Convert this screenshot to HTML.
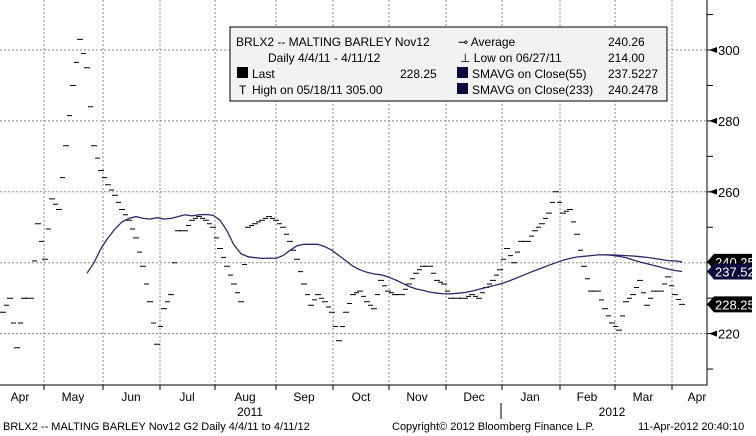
<!DOCTYPE html>
<html><head><meta charset="utf-8"><style>
body{margin:0;background:#fff;}
svg{display:block;font-family:"Liberation Sans",sans-serif;}
</style></head><body>
<svg id="c" width="756" height="436">
<g id="grid"></g>
<g id="bars"></g>
<g id="lines"></g>
<g id="axis"></g>
<g id="xaxis"></g>
<g font-size="12" fill="#000">
<rect x="230" y="27" width="437" height="74" fill="#f2f2f2" stroke="#000" stroke-width="1"/>
<text x="236" y="46">BRLX2 -- MALTING BARLEY  Nov12</text>
<text x="268" y="62">Daily 4/4/11 - 4/11/12</text>
<rect x="237" y="67" width="11" height="11" fill="#000"/>
<text x="252" y="78">Last</text><text x="400" y="78">228.25</text>
<text x="239" y="94">T</text><text x="252" y="94">High on 05/18/11 305.00</text>
<text x="458" y="46">⊸ Average</text><text x="608" y="46">240.26</text>
<text x="460" y="62">⊥ Low on 06/27/11</text><text x="608" y="62">214.00</text>
<rect x="457" y="67" width="11" height="11" fill="#0a0a3c"/>
<text x="472" y="78">SMAVG on Close(55)</text><text x="608" y="78">237.5227</text>
<rect x="457" y="83" width="11" height="11" fill="#0a0a3c"/>
<text x="472" y="94">SMAVG on Close(233)</text><text x="608" y="94">240.2478</text>
</g>
<g font-size="11" fill="#000">
<text x="3" y="430">BRLX2 -- MALTING BARLEY  Nov12      G2   Daily  4/4/11 to 4/11/12</text>
<text x="392" y="430">Copyright© 2012 Bloomberg Finance L.P.</text>
<text x="638" y="430">11-Apr-2012 20:40:10</text>
</g>
</svg>
<script>
const closes=[226,230,216,230,230,251,241,258,255,273,290,303,295,273,266,262,259,255,252,247,239,229,217,227,231,249,249,252,253,252,250,244,239,234,229,250,251,252,253,252,250,246,241,234,228,231,229,226,218,226,231,232,229,227,235,232,231,231,234,237,239,239,235,234,230,230,230,231,230,233,235,238,244,240,246,246,249,251,254,260,254,255,248,239,232,232,227,223,221,229,231,235,228,232,232,236,231,228.25];
const sma55Start=12;
const sma55=[237,240,244,247,249.5,251.5,252.5,253,252.5,252.3,252.7,252.3,252.5,253,253.5,253.2,253.5,253.6,253.4,252,249,245,242.5,241.7,241.4,241.2,241.3,241.2,242,243.5,244.8,245.2,245.2,245.2,244.5,243.5,242,240.5,239,238,237.3,236.8,236.6,236,235.2,234.3,233.3,232.6,232.2,231.7,231.4,231.2,231.2,231.4,231.6,232,232.5,233,233.5,234,234.6,235.4,236.2,237,237.8,238.5,239.3,240,240.7,241.2,241.6,241.8,242,242.2,242.2,242.1,241.8,241.4,240.8,240.2,239.7,239.2,238.7,238.2,237.8,237.52];
const sma233Start=85;
const sma233=[242.2,242.2,242.2,242.1,242,241.9,241.7,241.5,241.2,240.9,240.6,240.5,240.25];
const yTicks=[220,240,260,280,300];
const months=["Apr","May","Jun","Jul","Aug","Sep","Oct","Nov","Dec","Jan","Feb","Mar","Apr"];
const NS="http://www.w3.org/2000/svg";
const y=v=>50+(300-v)*71/20*0.9986;
const x=i=>3+i*(682-3)/(closes.length-1);
function mk(tag,attrs,parent){const e=document.createElementNS(NS,tag);for(const k in attrs)e.setAttribute(k,attrs[k]);document.getElementById(parent).appendChild(e);return e;}
const vx=[44,103,160,215,276,333,389,446,502,560,615,672];
vx.forEach(gx=>{const l=mk('line',{x1:gx,y1:0,x2:gx,y2:385,stroke:'#888','stroke-dasharray':'2,2'},'grid');

});
for(let v=220;v<=300;v+=20){const l=mk('line',{x1:0,y1:y(v),x2:707,y2:y(v),stroke:'#888','stroke-dasharray':'2,2'},'grid');

}
closes.forEach((c,i)=>{const px=x(i),prev=i?closes[i-1]:c;
const d=`M${(px-3).toFixed(1)},${y(c).toFixed(1)}h6M${(px-6).toFixed(1)},${y((c+prev)/2).toFixed(1)}h5`;
const g=mk('path',{d:d,stroke:'#000','stroke-width':1,fill:'none'},'bars');

});
function line(arr,start,name){const p=arr.map((v,k)=>`${k?'L':'M'}${x(start+k).toFixed(1)},${y(v).toFixed(1)}`).join('');
const l=mk('path',{d:p,stroke:'#2a2a6a','stroke-width':1.3,fill:'none'},'lines');

}
line(sma55,sma55Start,'sma55-line');line(sma233,sma233Start,'sma233-line');
const ax=mk('path',{d:'M0,385H707V0',stroke:'#000',fill:'none'},'axis');


for(let v=210;v<=310;v+=10){const t=mk('line',{x1:707,y1:y(v),x2:713,y2:y(v),stroke:'#000'},'axis');

}
yTicks.forEach(v=>{const t=mk('text',{x:718,y:y(v)+5,'font-size':13},'axis');t.textContent=v;


const m=mk('path',{d:`M709,${y(v)}l8,-3v6z`,fill:'#000'},'axis');

});
function tag(v,label,fill){const ty=y(v);
const p=mk('path',{d:`M707,${ty}l7,-8h38v16h-38z`,fill:fill},'axis');


const t=mk('text',{x:715,y:ty+5,'font-size':13,fill:'#fff'},'axis');t.textContent=label;

}
tag(sma233[sma233.length-1],'240.25','#000');tag(sma55[sma55.length-1],'237.52','#0a0a3c');tag(closes[closes.length-1],'228.25','#000');
const mx=[20,73,131,187,245,304,361,417,474,530,587,643,697];
months.forEach((m,i)=>{const t=mk('text',{x:mx[i],y:401,'font-size':12,'text-anchor':'middle'},'xaxis');t.textContent=m;

});
vx.forEach(gx=>{const t=mk('line',{x1:gx,y1:385,x2:gx,y2:390,stroke:'#000'},'xaxis');

});
[[250,'2011'],[612,'2012']].forEach(([px,s])=>{const t=mk('text',{x:px,y:416,'font-size':12,'text-anchor':'middle'},'xaxis');t.textContent=s;

});
const sep=mk('line',{x1:501,y1:403,x2:501,y2:419,stroke:'#000'},'xaxis');


</script>
</body></html>
